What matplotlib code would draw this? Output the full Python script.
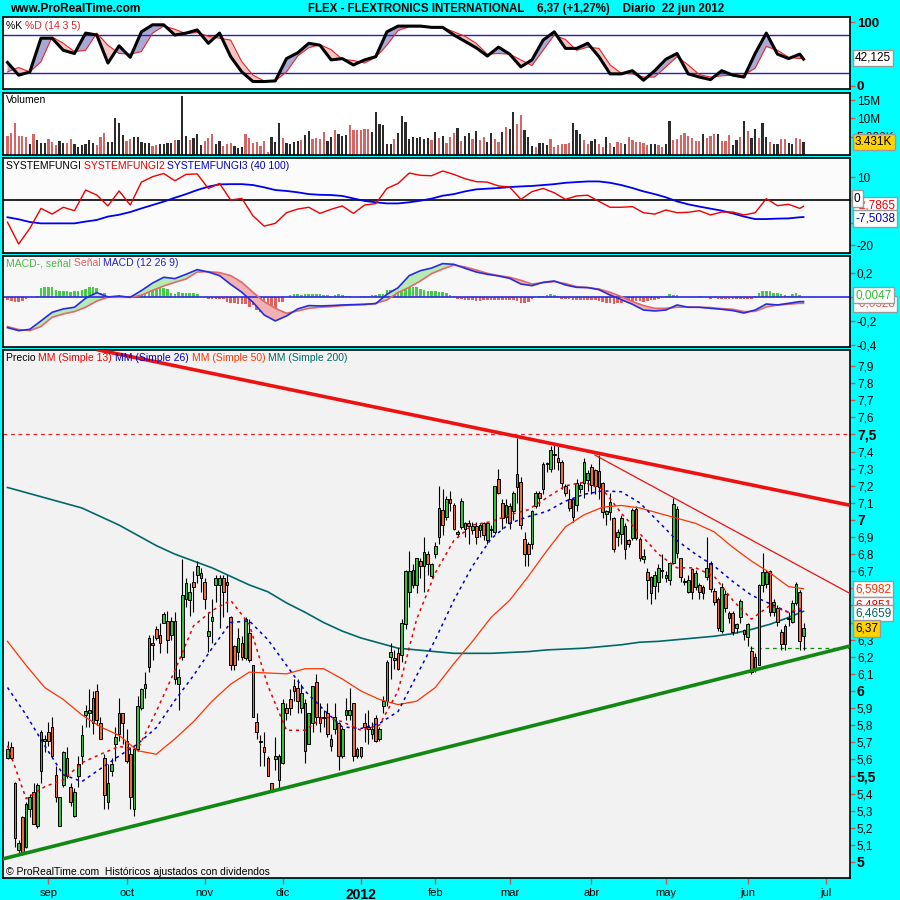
import matplotlib
matplotlib.use('Agg')
import matplotlib.pyplot as plt
import numpy as np

FONT = ['Liberation Sans', 'DejaVu Sans']
plt.rcParams['font.family'] = FONT

# ---------------- data (trading-day index 0 = 17 Aug 2011 ... 214 = 22 Jun 2012) ----------------
opens = [5.61,5.67,5.46,5.07,5.26,5.09,5.31,5.41,5.21,5.53,
         5.71,5.76,5.79,5.51,5.21,5.45,5.61,5.44,5.27,5.50,
         5.62,5.86,5.87,5.81,6.00,5.81,5.61,5.35,5.53,5.69,
         5.87,5.87,5.71,5.63,5.31,5.66,5.90,6.02,6.14,6.28,
         6.36,6.33,6.40,6.41,6.33,6.41,6.04,6.20,6.54,6.53,
         6.64,6.68,6.69,6.64,6.32,6.41,6.62,6.62,6.66,6.64,
         6.43,6.26,6.23,6.28,6.19,6.34,6.15,5.82,5.71,5.67,
         5.61,5.46,5.60,5.62,5.58,5.90,5.95,6.03,6.02,5.90,
         5.93,5.69,5.81,6.05,5.85,5.85,5.87,5.72,5.78,5.81,
         5.62,5.86,5.86,5.93,5.62,5.67,5.81,5.79,5.75,5.84,
         5.72,5.91,5.94,6.20,6.19,6.22,6.21,6.39,6.58,6.62,
         6.62,6.76,6.73,6.80,6.67,6.80,6.90,7.06,7.02,7.12,
         7.09,6.93,6.96,6.98,6.98,6.94,6.965,6.94,6.98,6.88,
         6.95,6.93,7.24,7.10,7.02,7.08,7.05,7.19,7.22,6.89,
         6.86,6.86,7.08,7.16,7.18,7.33,7.30,7.38,7.36,7.34,
         7.20,7.12,7.12,7.09,7.18,7.215,7.235,7.308,7.29,7.195,
         7.215,7.035,7.045,7.01,6.899,6.92,6.967,6.883,6.893,7.065,
         6.889,6.77,6.698,6.669,6.616,6.636,6.705,6.66,6.65,6.747,
         7.063,6.776,6.643,6.581,6.714,6.61,6.62,6.57,6.669,6.751,
         6.587,6.538,6.353,6.568,6.425,6.458,6.367,6.431,6.357,6.318,
         6.234,6.123,6.152,6.62,6.624,6.704,6.464,6.484,6.347,6.273,
         6.425,6.406,6.513,6.581,6.32]
highs = [5.71,5.70,5.47,5.13,5.27,5.35,5.40,5.46,5.46,5.77,
         5.74,5.82,5.85,5.56,5.38,5.65,5.67,5.46,5.43,5.62,
         5.80,5.92,6.01,6.00,6.04,5.85,5.63,5.57,5.61,5.79,
         5.96,5.87,5.78,5.67,5.67,5.97,6.02,6.11,6.33,6.33,
         6.38,6.40,6.46,6.47,6.43,6.46,6.13,6.77,6.66,6.63,
         6.70,6.76,6.72,6.66,6.46,6.54,6.68,6.68,6.68,6.68,
         6.44,6.27,6.37,6.32,6.43,6.42,6.15,5.87,5.74,5.76,
         5.62,5.46,5.73,5.63,5.95,5.93,6.01,6.07,6.07,6.04,
         5.95,5.87,6.03,6.10,5.93,5.89,5.93,5.75,5.93,5.82,
         5.79,5.96,6.02,5.93,5.67,5.67,5.87,5.89,5.82,5.86,
         5.79,5.97,6.18,6.28,6.24,6.25,6.42,6.71,6.82,6.74,
         6.78,6.78,6.90,6.82,6.75,6.87,7.20,7.18,7.14,7.17,
         7.10,6.94,7.13,6.99,7.00,6.99,6.99,6.98,6.99,6.99,
         6.97,7.20,7.30,7.12,7.12,7.10,7.17,7.48,7.25,6.93,
         6.87,7.06,7.17,7.17,7.34,7.34,7.43,7.44,7.43,7.35,
         7.21,7.18,7.13,7.24,7.22,7.36,7.29,7.33,7.30,7.38,
         7.22,7.06,7.16,7.02,6.95,7.03,6.98,6.89,7.07,7.08,
         6.90,6.83,6.72,6.67,6.70,6.74,6.80,6.70,6.75,7.13,
         7.08,6.78,6.66,6.68,6.72,6.71,6.63,6.62,6.90,6.76,
         6.60,6.55,6.63,6.59,6.47,6.47,6.40,6.54,6.36,6.40,
         6.26,6.22,6.625,6.805,6.71,6.71,6.54,6.50,6.36,6.39,
         6.46,6.53,6.64,6.59,6.40]
lows = [5.60,5.60,5.09,5.05,5.04,5.08,5.26,5.22,5.20,5.46,
        5.64,5.68,5.61,5.35,5.21,5.44,5.49,5.33,5.26,5.44,
        5.57,5.79,5.79,5.75,5.80,5.72,5.31,5.31,5.50,5.59,
        5.71,5.69,5.58,5.31,5.27,5.65,5.89,5.96,6.11,6.18,
        6.30,6.22,6.40,6.22,6.30,6.04,5.89,6.18,6.49,6.44,
        6.46,6.63,6.58,6.48,6.23,6.28,6.52,6.37,6.43,6.46,
        6.12,6.12,6.18,6.18,6.18,6.17,5.85,5.72,5.56,5.56,
        5.50,5.41,5.54,5.42,5.57,5.83,5.86,5.94,5.87,5.87,
        5.58,5.69,5.76,5.80,5.76,5.79,5.73,5.65,5.75,5.54,
        5.61,5.83,5.83,5.59,5.61,5.61,5.70,5.69,5.72,5.70,
        5.71,5.87,5.91,6.07,6.13,6.12,6.17,6.36,6.49,6.60,
        6.57,6.66,6.58,6.68,6.66,6.78,6.86,6.91,7.00,7.05,
        6.94,6.90,6.95,6.90,6.86,6.92,6.86,6.90,6.88,6.86,
        6.90,6.92,7.15,6.95,6.98,6.95,7.00,7.10,6.95,6.73,
        6.73,6.83,7.07,7.08,7.15,7.28,7.28,7.30,7.29,7.18,
        7.14,7.05,6.99,7.05,7.16,7.13,7.17,7.15,7.15,7.12,
        7.01,6.97,7.00,6.81,6.85,6.86,6.77,6.84,6.88,6.88,
        6.76,6.75,6.54,6.51,6.54,6.58,6.66,6.64,6.62,6.74,
        6.78,6.64,6.62,6.57,6.54,6.59,6.54,6.54,6.65,6.58,
        6.50,6.35,6.34,6.46,6.40,6.33,6.34,6.40,6.30,6.26,
        6.10,6.11,6.15,6.58,6.60,6.44,6.44,6.38,6.24,6.24,
        6.38,6.40,6.50,6.24,6.24]
closes = [5.66,5.61,5.14,5.11,5.05,5.34,5.38,5.22,5.45,5.76,
          5.72,5.71,5.62,5.38,5.38,5.64,5.50,5.35,5.41,5.57,
          5.74,5.88,5.89,5.96,5.83,5.72,5.39,5.46,5.57,5.73,
          5.75,5.81,5.59,5.38,5.66,5.91,6.01,6.04,6.31,6.27,
          6.31,6.28,6.45,6.30,6.41,6.07,6.08,6.56,6.63,6.58,
          6.61,6.73,6.66,6.54,6.35,6.43,6.66,6.66,6.58,6.62,
          6.15,6.15,6.31,6.20,6.42,6.18,5.85,5.76,5.70,5.64,
          5.50,5.42,5.62,5.48,5.93,5.87,5.90,6.00,5.94,5.99,
          5.65,5.87,6.03,5.85,5.81,5.84,5.75,5.68,5.85,5.62,
          5.78,5.89,5.89,5.62,5.66,5.62,5.79,5.78,5.78,5.71,
          5.78,5.94,6.17,6.23,6.18,6.13,6.40,6.70,6.70,6.71,
          6.78,6.73,6.81,6.74,6.74,6.85,7.07,6.97,7.12,7.10,
          6.95,6.92,7.11,6.95,6.965,6.965,6.90,6.97,6.91,6.98,
          6.94,7.20,7.16,7.01,7.09,6.98,7.16,7.27,6.97,6.80,
          6.80,7.05,7.16,7.13,7.33,7.335,7.41,7.385,7.34,7.215,
          7.16,7.07,7.02,7.215,7.205,7.34,7.273,7.205,7.20,7.287,
          7.049,7.055,7.104,6.83,6.928,7.01,6.83,6.86,7.059,6.893,
          6.776,6.79,6.646,6.575,6.679,6.718,6.70,6.68,6.747,7.094,
          6.805,6.665,6.636,6.649,6.581,6.692,6.577,6.605,6.718,6.597,
          6.523,6.367,6.607,6.484,6.455,6.347,6.392,6.527,6.332,6.392,
          6.11,6.197,6.62,6.698,6.698,6.46,6.523,6.402,6.273,6.377,
          6.42,6.513,6.626,6.29,6.37]

# volume in millions, and 1 = down (red) bar
volume_m = [5.2,6.1,8.65,5.2,5.2,5.0,3.0,5.7,4.1,3.4,3.4,4.3,3.6,2.7,3.8,3.2,3.4,4.3,2.9,2.3,
            2.7,3.0,4.1,3.4,2.7,5.0,6.1,3.6,3.6,10.0,8.65,5.5,3.8,4.3,5.0,5.0,3.5,3.2,3.2,2.5,
            2.7,3.0,3.0,3.4,3.2,4.1,4.1,16.1,5.2,4.1,4.55,5.6,2.7,3.8,4.7,5.6,3.0,3.8,2.5,2.9,
            3.4,2.5,1.8,2.3,5.7,4.7,3.4,3.6,2.5,3.9,0.9,5.0,3.6,8.8,4.7,3.4,2.9,3.6,3.9,4.1,
            5.5,6.6,4.3,4.55,4.3,6.4,3.9,5.0,6.85,5.7,5.3,5.5,8.2,6.85,6.7,6.85,7.0,7.1,6.4,11.6,
            8.5,8.2,3.0,3.0,4.3,5.9,10.7,9.1,4.3,5.0,4.7,4.8,4.3,4.55,4.1,6.4,4.55,5.3,3.4,
            5.0,6.1,7.5,3.9,5.2,6.1,4.4,6.6,4.1,5.0,3.6,5.9,4.3,3.6,6.4,7.6,7.1,11.8,8.4,10.9,
            6.7,5.0,2.5,2.1,3.4,3.2,2.7,4.4,2.3,2.6,3.0,3.0,3.4,8.65,6.7,5.7,4.1,3.0,3.9,4.4,
            3.0,2.1,5.0,3.2,2.3,3.6,3.4,3.0,5.0,4.1,3.6,3.5,3.2,2.7,3.0,3.0,2.7,2.3,3.0,9.4,
            4.1,4.3,5.5,5.9,5.3,4.55,3.9,3.9,5.7,4.55,5.2,5.6,5.7,3.9,3.9,5.5,2.6,4.1,5.0,9.4,
            6.6,4.55,7.1,4.55,8.65,5.0,3.6,2.9,2.9,4.4,4.4,3.4,2.9,4.55,4.4,3.431]
volume_down = [1,1,1,1,1,1,0,1,0,0,0,1,1,1,0,0,1,1,0,0,
               0,0,0,0,1,1,1,0,0,0,0,0,1,1,0,0,0,0,0,1,
               1,0,0,0,0,1,0,0,0,1,0,0,0,1,1,1,0,0,1,1,
               1,0,0,0,1,1,1,1,1,1,1,0,0,0,1,0,0,0,0,1,
               0,0,1,1,1,1,0,0,1,0,0,0,1,1,1,1,1,1,0,0,
               0,0,0,0,1,0,0,0,0,0,0,0,0,0,1,0,1,0,1,
               1,1,0,1,0,0,1,0,1,1,0,0,1,1,0,1,0,0,1,1,
               0,0,0,1,0,0,0,1,1,1,1,1,1,0,0,0,1,1,0,0,
               1,1,0,1,0,1,1,0,1,1,1,1,1,1,0,0,1,1,0,0,
               1,1,1,1,1,1,1,1,0,1,1,1,0,1,1,1,0,0,1,0,
               1,0,0,1,0,0,1,0,0,1,1,0,0,1,1,0]

# moving averages, read every 5 trading days
ma_idx = list(range(0, 211, 5)) + [214]
sma13 = [5.68,5.37,5.44,5.48,5.58,5.63,5.675,5.66,5.88,6.12,
         6.38,6.47,6.53,6.39,6.03,5.77,5.77,5.85,5.82,5.77,
         5.80,6.00,6.42,6.69,6.88,6.97,6.99,7.03,7.06,7.13,
         7.20,7.22,7.18,7.04,6.92,6.80,6.72,6.72,6.67,6.53,
         6.42,6.50,6.46,6.485]
sma26 = [6.02,5.86,5.68,5.51,5.47,5.545,5.62,5.69,5.785,5.945,
         6.09,6.25,6.40,6.41,6.30,6.15,6.00,5.89,5.79,5.78,
         5.81,5.88,6.09,6.30,6.53,6.73,6.89,6.98,7.02,7.05,
         7.11,7.15,7.17,7.165,7.10,6.99,6.88,6.80,6.73,6.64,
         6.56,6.51,6.46,6.47]
sma50 = [6.29,6.15,6.02,5.95,5.86,5.79,5.74,5.65,5.63,5.72,
         5.82,5.94,6.04,6.11,6.105,6.10,6.13,6.13,6.07,6.00,
         5.95,5.92,5.94,6.02,6.16,6.29,6.43,6.53,6.67,6.82,
         6.96,7.03,7.075,7.085,7.07,7.04,7.01,6.98,6.93,6.84,
         6.76,6.69,6.61,6.598]
sma200 = [7.19,7.16,7.13,7.10,7.07,7.02,6.97,6.91,6.85,6.80,
          6.76,6.72,6.67,6.62,6.58,6.515,6.46,6.40,6.35,6.31,
          6.28,6.25,6.24,6.23,6.22,6.22,6.22,6.225,6.23,6.24,
          6.245,6.25,6.26,6.27,6.285,6.29,6.30,6.31,6.32,6.335,
          6.36,6.39,6.43,6.466]

# indicators, read every 3 trading days
ind_idx = list(range(0, 214, 3)) + [214]
stoch_k = [37,17,22,75,75,56,51,83,80,36, 63,45,85,96,96,80,83,88,67,83,
           46,22,7,7,8,43,52,67,64,41, 43,33,41,46,85,94,94,94,92,92,
           80,70,60,47,61,50,30,41,72,85, 59,59,67,46,19,19,24,9,24,42,
           51,19,14,10,24,17,14,51,83,50, 43,50,42.125]
stoch_d = [22,29,22,38,77,67,54,56,83,64, 51,50,54,83,94,89,82,84,78,75,
           72,38,17,8,8,22,47,60,65,57, 42,40,36,45,64,87,93,93,93,92,
           85,78,67,50,51,50,41,32,56,80, 73,56,61,59,33,20,19,14,14,30,
           46,33,18,14,16,17,17,28,62,56, 45,43,45]
fungi2 = [-9.8,-19.4,-12.5,-3.7,-6.2,-3.2,-4.7,4.4,2.2,-2.6, 4.0,-2.2,7.9,10.3,11.7,8.5,11.3,11.5,5.1,7.3,
          0.0,0.7,-7.0,-11.5,-10.3,-5.6,-4.0,-3.2,-5.9,-4.1, -2.6,-5.9,-2.2,-1.6,5.1,7.3,11.9,10.9,10.7,12.8,
          11.3,9.4,8.1,7.9,6.2,5.7,0.3,3.7,5.1,3.2, 0.3,1.8,2.1,-0.6,-3.2,-3.2,-2.9,-5.6,-6.2,-4.4,
          -5.6,-5.4,-4.7,-6.6,-5.3,-5.3,-6.6,-5.6,0.6,-2.5, -1.9,-3.7,-2.7865]
fungi3 = [-7.6,-8.5,-9.7,-10.3,-10.3,-10.3,-10.3,-9.5,-8.8,-7.3, -6.5,-5.3,-3.7,-2.2,-0.7,1.0,2.6,4.4,5.9,6.9,
          7.0,7.0,6.6,5.6,4.4,4.0,3.4,2.6,2.3,2.2, 1.8,0.7,-0.4,-1.0,-1.5,-1.5,-1.0,-0.3,0.6,1.9,
          2.6,3.8,4.7,5.0,5.3,5.7,6.0,6.2,6.6,7.0, 7.6,7.9,8.2,8.2,7.6,6.6,5.3,3.8,2.6,1.2,
          -0.6,-1.9,-2.9,-3.8,-4.7,-5.9,-7.3,-8.4,-8.4,-8.2, -8.1,-7.6,-7.5038]
macd_line = [-0.253,-0.278,-0.267,-0.197,-0.125,-0.097,-0.083,-0.008,0.039,0.003,
             0.011,0.0,0.056,0.119,0.167,0.156,0.192,0.231,0.211,0.181,
             0.108,0.042,-0.042,-0.147,-0.197,-0.156,-0.097,-0.069,-0.072,-0.069,
             -0.064,-0.061,-0.058,-0.053,0.025,0.08,0.181,0.222,0.244,0.281,
             0.275,0.242,0.211,0.192,0.178,0.158,0.111,0.097,0.125,0.136,
             0.103,0.083,0.081,0.064,0.019,-0.019,-0.058,-0.106,-0.114,-0.106,
             -0.064,-0.083,-0.083,-0.092,-0.1,-0.111,-0.131,-0.106,-0.056,-0.064,
             -0.05,-0.036,-0.036]
macd_signal = [-0.244,-0.269,-0.278,-0.244,-0.167,-0.139,-0.119,-0.083,-0.031,0.0,
               0.0,0.0,0.017,0.058,0.094,0.125,0.153,0.211,0.214,0.206,
               0.181,0.125,0.042,-0.036,-0.092,-0.133,-0.114,-0.092,-0.083,-0.078,
               -0.069,-0.064,-0.061,-0.05,-0.022,0.039,0.083,0.136,0.197,0.236,
               0.269,0.253,0.228,0.2,0.181,0.167,0.142,0.111,0.122,0.131,
               0.114,0.089,0.081,0.069,0.042,0.006,-0.036,-0.069,-0.092,-0.092,
               -0.083,-0.081,-0.083,-0.086,-0.094,-0.1,-0.119,-0.117,-0.081,-0.064,
               -0.058,-0.05,-0.05]
macd_hist = [-0.02,-0.03,-0.035,-0.035,-0.03,-0.01,0.0,0.005,0.01,0.08,
             0.085,0.09,0.09,0.06,0.055,0.05,0.05,0.045,0.05,0.055,
             0.06,0.07,0.09,0.085,0.08,0.04,0.035,0.01,0.015,0.01,
             0.02,0.01,0.015,0.005,0.0,0.03,0.06,0.07,0.08,0.085,
             0.08,0.085,0.075,0.07,0.04,0.03,0.045,0.04,0.04,0.04,
             0.035,0.03,0.005,0.0,-0.01,-0.01,-0.01,-0.015,-0.01,-0.04,
             -0.045,-0.05,-0.055,-0.055,-0.06,-0.08,-0.065,-0.11,-0.12,-0.125,
             -0.1,-0.095,-0.1,-0.04,-0.035,0.0,0.02,0.025,0.025,0.02,
             0.03,0.03,0.03,0.025,0.025,0.02,0.02,0.015,0.02,0.025,
             0.02,0.015,0.01,0.005,0.005,0.01,0.01,0.015,0.02,0.02,
             0.025,0.03,0.06,0.065,0.07,0.075,0.09,0.095,0.095,0.09,
             0.085,0.07,0.06,0.055,0.05,0.05,0.045,0.045,0.04,0.02,
             0.015,-0.01,-0.015,-0.02,-0.025,-0.025,-0.03,-0.03,-0.025,-0.025,
             -0.02,-0.02,-0.025,-0.02,-0.02,-0.02,-0.025,-0.03,-0.05,-0.05,
             -0.04,-0.01,0.005,0.01,0.015,0.02,0.025,0.02,0.01,-0.01,
             -0.015,-0.015,-0.02,-0.02,-0.02,-0.02,-0.02,-0.02,-0.025,-0.03,
             -0.035,-0.05,-0.05,-0.055,-0.05,-0.045,-0.04,-0.035,-0.03,-0.03,
             -0.03,-0.035,-0.03,-0.025,-0.02,-0.01,0.0,0.01,0.025,0.02,
             0.02,0.005,0.0,0.0,0.0,0.005,0.01,0.005,0.0,-0.01,
             -0.005,-0.01,-0.01,-0.01,-0.01,-0.01,-0.015,-0.01,-0.015,-0.015,
             -0.01,0.015,0.04,0.05,0.05,0.05,0.04,0.035,0.03,0.02,
             0.015,0.025,0.035,0.02,0.0047]

# trend lines (index, price)
resist_x = [115.5, 226.5]; resist_y = [7.585, 7.086]
resist2_x = [157.9, 226.5]; resist2_y = [7.38, 6.57]
support_x = [-1.2, 226.5]; support_y = [5.018, 6.263]
level_high = 7.5
level_low = 6.25
level_low_start = 199.6

month_idx = [11, 32, 53, 74, 95, 115, 135, 157, 177, 199, 220]
month_lbl = ['sep', 'oct', 'nov', 'dic', '2012', 'feb', 'mar', 'abr', 'may', 'jun', 'jul']

price_ticks = [round(5 + 0.1 * k, 1) for k in range(30)]
hidden_price_labels = [6.4, 6.5, 6.6]   # covered by the value boxes in the reference

# ---------------- figure ----------------
W = H = 900
CYAN = '#00FFFF'
fig = plt.figure(figsize=(9, 9), dpi=100, facecolor=CYAN)
XL = (-1.13, 226.5)


def rect(y0, y1):
    return [3.3 / W, 1 - y1 / H, (850 - 3.3) / W, (y1 - y0) / H]


def style_ax(ax, bg):
    ax.set_facecolor(bg)
    ax.set_xlim(*XL)
    for s in ax.spines.values():
        s.set_linewidth(1.2)
        s.set_color('black')
    ax.yaxis.tick_right()
    ax.tick_params(axis='y', which='both', direction='out', length=3.5, width=1,
                   color='#E05050', labelsize=8.5, pad=1.5, labelcolor='black')
    ax.tick_params(axis='x', which='both', bottom=False, labelbottom=False, top=False)


x = np.arange(len(closes))
o = np.array(opens); h = np.array(highs); l = np.array(lows); c = np.array(closes)

# ---- stochastic ----
ax1 = fig.add_axes(rect(17.3, 89.3))
style_ax(ax1, 'white')
ax1.set_ylim(-5.2, 107.8)
k = np.array(stoch_k, float); d = np.array(stoch_d, float); xi = np.array(ind_idx)
ax1.fill_between(xi, k, d, where=k >= d, interpolate=True, color='#A9A9D6', lw=0)
ax1.fill_between(xi, k, d, where=k < d, interpolate=True, color='#F3C6C6', lw=0)
ax1.axhline(80, color='#2222BB', lw=1)
ax1.axhline(20, color='#2222BB', lw=1)
ax1.plot(xi, d, color='#EE2222', lw=0.8)
ax1.plot(xi, k, color='black', lw=2.2)
ax1.set_yticks([0, 100])
ax1.set_yticklabels(['0', '100'], fontweight='bold', fontsize=9.5)

# ---- volume ----
ax2 = fig.add_axes(rect(92.7, 155))
style_ax(ax2, 'white')
ax2.set_ylim(0, 17.0)
vcol = ['#D96464' if dn else '#2B2B2B' for dn in volume_down]
ax2.bar(x, volume_m, width=0.6, color=vcol, lw=0)
ax2.set_yticks([5, 10, 15])
ax2.set_yticklabels(['5.000K', '10M', '15M'])

# ---- systemfungi ----
ax3 = fig.add_axes(rect(158.3, 253.3))
style_ax(ax3, '#FBFBFB')
ax3.set_ylim(-23.5, 18.4)
ax3.axhline(0, color='black', lw=1.2)
ax3.plot(xi, fungi3, color='#0000EE', lw=1.3)
ax3.plot(xi, fungi2, color='#EE0000', lw=1.0)
ax3.set_yticks([10, 0, -10, -20])
ax3.set_yticklabels(['10', '', '-10', '-20'])

# ---- MACD ----
ax4 = fig.add_axes(rect(255.7, 347.3))
style_ax(ax4, '#F7F7F7')
ax4.set_ylim(-0.417, 0.347)
mh = np.array(macd_hist)
ax4.bar(x, mh, width=0.7, color=np.where(mh >= 0, '#44CC44', '#E06060'), lw=0)
m = np.array(macd_line); s = np.array(macd_signal)
ax4.fill_between(xi, m, s, where=m >= s, interpolate=True, color='#B5EAB5', lw=0)
ax4.fill_between(xi, m, s, where=m < s, interpolate=True, color='#F0B2B2', lw=0)
ax4.axhline(0, color='#2A2AE0', lw=1.2)
ax4.plot(xi, s, color='#E06A6A', lw=1.2)
ax4.plot(xi, m, color='#2A2AE0', lw=1.2)
ax4.set_yticks([0.2, 0, -0.2, -0.4])
ax4.set_yticklabels(['0,2', '', '-0,2', '-0,4'])

# ---- price ----
ax5 = fig.add_axes(rect(350, 878))
style_ax(ax5, '#F2F2F2')
ax5.set_ylim(4.906, 7.994)
ax5.axhline(level_high, color='#EE2222', lw=0.9, ls=(0, (3, 3)), zorder=1)
ax5.plot([level_low_start, XL[1]], [level_low, level_low], color='#118811', lw=0.9, ls=(0, (3, 3)), zorder=1)
ax5.plot(ma_idx, sma200, color='#006868', lw=1.2, zorder=2)
ax5.vlines(x, l, h, color='black', lw=0.8, zorder=3)
body_b = np.minimum(o, c)
body_h = np.maximum(np.abs(c - o), 0.006)
ccol = np.where(c >= o, '#36C236', '#EE6B3B')
ax5.bar(x, body_h, bottom=body_b, width=0.72, color=ccol, edgecolor='black', lw=0.7, zorder=4)
ax5.plot(ma_idx, sma50, color='#FF3300', lw=0.9, zorder=5)
ax5.plot(ma_idx, sma26, color='#0000CC', lw=1.1, ls=(0, (2, 2.5)), zorder=5)
ax5.plot(ma_idx, sma13, color='#EE0000', lw=1.1, ls=(0, (2, 2.5)), zorder=5)
ax5.axline((resist_x[0], resist_y[0]), (resist_x[1], resist_y[1]), color='#EE1111', lw=2.6, zorder=6)
ax5.plot(resist2_x, resist2_y, color='#EE1111', lw=0.9, zorder=6)
ax5.axline((support_x[0], support_y[0]), (support_x[1], support_y[1]), color='#118811', lw=2.6, zorder=6)
ax5.set_ylim(4.906, 7.994)
ax5.set_xlim(*XL)
ax5.set_yticks(price_ticks)
ax5.set_yticklabels(['' if t in hidden_price_labels else ('%g' % t).replace('.', ',') for t in price_ticks])
for t, lab in zip(price_ticks, ax5.get_yticklabels()):
    if abs(t * 2 - round(t * 2)) < 1e-6:
        lab.set_fontweight('bold')
        lab.set_fontsize(10)
ax5.set_xticks(month_idx)
ax5.set_xticklabels(month_lbl)
ax5.tick_params(axis='x', bottom=True, labelbottom=True, direction='out', length=4,
                width=1, color='#E05050', labelsize=8, pad=3)
for lab in ax5.get_xticklabels():
    if lab.get_text() == '2012':
        lab.set_fontweight('bold')
        lab.set_fontsize(10)

# ---------------- texts ----------------
renderer = fig.canvas.get_renderer()


def multicolor(xp, yp, parts, size, weight='normal'):
    for txt, col in parts:
        t = fig.text(xp / W, 1 - yp / H, txt, color=col, fontsize=size, fontweight=weight,
                     va='center', ha='left', zorder=8)
        xp += t.get_window_extent(renderer).width


multicolor(10, 9, [('www.ProRealTime.com', 'black')], 8.6, 'bold')
multicolor(308, 9, [('FLEX - FLEXTRONICS INTERNATIONAL    6,37 (+1,27%)    Diario  22 jun 2012', 'black')], 8.3, 'bold')
multicolor(6, 26, [('%K ', 'black'), ('%D (14 3 5)', '#DD2222')], 7.5)
multicolor(6, 100, [('Volumen', 'black')], 7.5)
multicolor(6, 166, [('SYSTEMFUNGI ', 'black'), ('SYSTEMFUNGI2 ', '#EE0000'), ('SYSTEMFUNGI3 (40 100)', '#0000CC')], 7.5)
multicolor(6, 263, [('MACD-, señal ', '#44BB44'), ('Señal ', '#E06060'), ('MACD (12 26 9)', '#2222CC')], 7.5)
multicolor(6, 358, [('Precio ', 'black'), ('MM (Simple 13) ', '#EE0000'), ('MM (Simple 26) ', '#0000CC'),
                    ('MM (Simple 50) ', '#FF3300'), ('MM (Simple 200)', '#006868')], 7.5)
multicolor(6, 872, [('© ProRealTime.com  Históricos ajustados con dividendos', 'black')], 7.5)


def vbox(yp, s, col, fc='white', xp=855, size=8.5):
    fig.text(xp / W, 1 - yp / H, s, color=col, fontsize=size, va='center', ha='left', zorder=9,
             bbox=dict(boxstyle='square,pad=0.18', fc=fc, ec='#9A9A9A', lw=1.0))


vbox(58, '42,125', 'black')
vbox(142, '3.431K', 'black', fc='#FFD200')
vbox(205.5, '-2,7865', '#EE0000')
vbox(218.5, '-7,5038', '#0000CC')
vbox(198.5, '0', 'black', xp=854)
vbox(304, '-0,0328', '#E06060')
vbox(295, '0,0047', '#33BB33')
vbox(589, '6,5982', '#FF3300')
vbox(605, '6,4851', '#EE0000')
vbox(613, '6,4659', '#006868')
vbox(628.5, '6,37', 'black', fc='#FFD200')

fig.savefig('out.png', dpi=100, facecolor=CYAN)
